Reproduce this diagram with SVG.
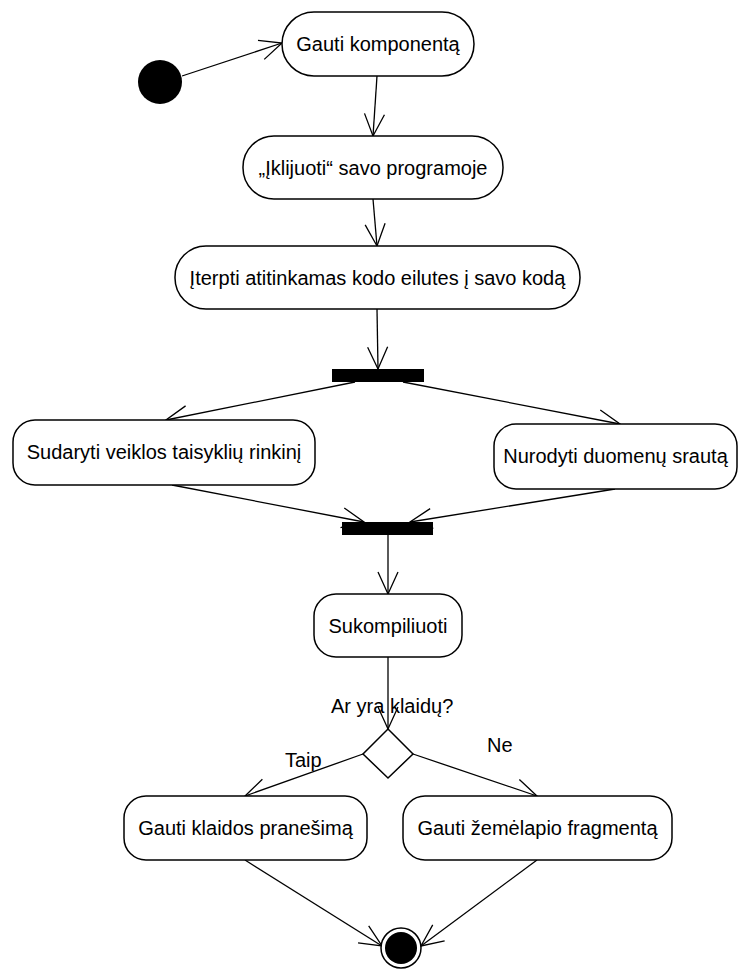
<svg xmlns="http://www.w3.org/2000/svg" width="739" height="969" viewBox="0 0 739 969">
  <style>
    .act { fill: #ffffff; stroke: #000000; stroke-width: 1.5; }
    .lbl { font-family: "Liberation Sans", Arial, sans-serif; font-size: 20px; fill: #000000; }
    .mid { text-anchor: middle; }
    .flow { fill: none; stroke: #000000; stroke-width: 1.3; marker-end: url(#open); }
    .bar { fill: #000000; }
  </style>
  <defs>
    <marker id="open" markerUnits="userSpaceOnUse" markerWidth="40" markerHeight="40" refX="0" refY="0" orient="auto" viewBox="-30 -20 40 40" overflow="visible">
      <path d="M-22,-10 L0,0 L-22,10" fill="none" stroke="#000000" stroke-width="1.3"/>
    </marker>
  </defs>

  <!-- control flows -->
  <g id="flows">
    <line class="flow" x1="182" y1="76" x2="282" y2="43"/>
    <line class="flow" x1="377" y1="76" x2="373" y2="136"/>
    <line class="flow" x1="373" y1="199" x2="377" y2="246"/>
    <line class="flow" x1="377" y1="309" x2="378" y2="369"/>
    <line class="flow" x1="355" y1="382" x2="166" y2="420"/>
    <line class="flow" x1="403" y1="382" x2="620" y2="424"/>
    <line class="flow" x1="172" y1="485" x2="364" y2="522"/>
    <line class="flow" x1="615" y1="489" x2="410" y2="522"/>
    <line class="flow" x1="388" y1="535" x2="388" y2="594"/>
    <line class="flow" x1="388" y1="657" x2="388" y2="729"/>
    <line class="flow" x1="363" y1="754" x2="245" y2="796"/>
    <line class="flow" x1="413" y1="754" x2="537" y2="796"/>
    <line class="flow" x1="245" y1="860" x2="382" y2="946"/>
    <line class="flow" x1="537" y1="860" x2="421" y2="946"/>
  </g>

  <!-- initial node -->
  <g id="start">
    <circle cx="160" cy="82" r="22" fill="#000000"/>
  </g>

  <g id="n-gauti-komponenta">
    <rect class="act" x="282" y="12" width="192" height="64" rx="32" ry="32"/>
    <text class="lbl mid" x="378" y="51">Gauti komponentą</text>
  </g>

  <g id="n-iklijuoti">
    <rect class="act" x="243" y="136" width="260" height="63" rx="31" ry="31"/>
    <text class="lbl mid" x="373" y="175">„Įklijuoti“ savo programoje</text>
  </g>

  <g id="n-iterpti">
    <rect class="act" x="175" y="246" width="405" height="63" rx="31" ry="31"/>
    <text class="lbl mid" x="377.5" y="285">Įterpti atitinkamas kodo eilutes į savo kodą</text>
  </g>

  <g id="fork">
    <rect class="bar" x="332" y="369" width="92" height="13"/>
  </g>

  <g id="n-sudaryti">
    <rect class="act" x="13" y="420" width="302" height="65" rx="22" ry="22"/>
    <text class="lbl mid" x="164" y="459">Sudaryti veiklos taisyklių rinkinį</text>
  </g>

  <g id="n-nurodyti">
    <rect class="act" x="494" y="424" width="243" height="65" rx="22" ry="22"/>
    <text class="lbl mid" x="615.5" y="463">Nurodyti duomenų srautą</text>
  </g>

  <g id="join">
    <rect class="bar" x="342" y="522" width="91" height="13"/>
  </g>

  <g id="n-sukompiliuoti">
    <rect class="act" x="314" y="594" width="148" height="63" rx="22" ry="22"/>
    <text class="lbl mid" x="388" y="633">Sukompiliuoti</text>
  </g>

  <g id="decision">
    <polygon points="388,729 413,754 388,778 363,754" fill="#ffffff" stroke="#000000" stroke-width="1.5"/>
    <text class="lbl" x="331" y="713">Ar yra klaidų?</text>
    <text class="lbl" x="285" y="767">Taip</text>
    <text class="lbl" x="487" y="752">Ne</text>
  </g>

  <g id="n-klaida">
    <rect class="act" x="124" y="796" width="243" height="64" rx="22" ry="22"/>
    <text class="lbl mid" x="245.5" y="835">Gauti klaidos pranešimą</text>
  </g>

  <g id="n-zemelapis">
    <rect class="act" x="403" y="796" width="269" height="64" rx="22" ry="22"/>
    <text class="lbl mid" x="537.5" y="835">Gauti žemėlapio fragmentą</text>
  </g>

  <!-- final node -->
  <g id="end">
    <circle cx="401" cy="948" r="20" fill="#ffffff" stroke="#000000" stroke-width="1.5"/>
    <circle cx="401" cy="948" r="16" fill="#000000"/>
  </g>
</svg>
